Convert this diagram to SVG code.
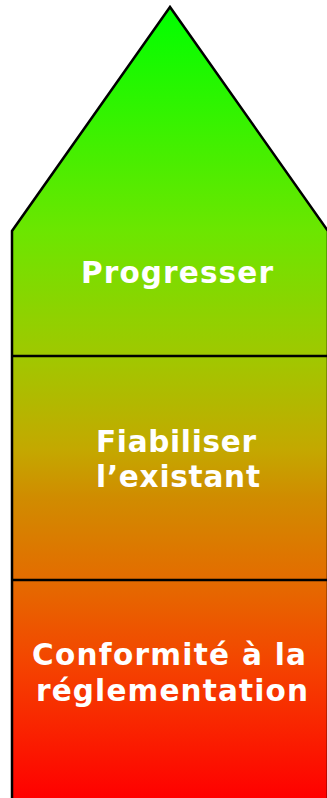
<svg xmlns="http://www.w3.org/2000/svg" width="327" height="798" viewBox="0 0 327 798">
<defs>
<linearGradient id="g" gradientUnits="userSpaceOnUse" x1="0" y1="7" x2="0" y2="798">
<stop offset="0" stop-color="#00ff00"/>
<stop offset="0.284" stop-color="#6ce600"/>
<stop offset="0.441" stop-color="#a0c800"/>
<stop offset="0.56" stop-color="#c4a800"/>
<stop offset="0.62" stop-color="#d08c00"/>
<stop offset="0.724" stop-color="#e46c00"/>
<stop offset="0.83" stop-color="#f44400"/>
<stop offset="1" stop-color="#ff0000"/>
</linearGradient>
<style>
.t{font-family:"DejaVu Sans",Verdana,sans-serif;font-weight:bold;font-size:29.5px;fill:#ffffff}
.l{stroke:#000;stroke-width:2.5;fill:none}
</style>
</defs>
<g id="house">
<path d="M170,7 L12,231 L12,800 L328,800 L328,231 Z" fill="url(#g)" stroke="#000" stroke-width="2.5" stroke-linejoin="miter"/>
</g>
<g id="connectors">
<line class="l" x1="12" y1="356" x2="328" y2="356"/>
<line class="l" x1="12" y1="580" x2="328" y2="580"/>
</g>
<g id="top">
<text class="t" x="81" y="283" textLength="192" lengthAdjust="spacing">Progresser</text>
</g>
<g id="middle">
<text class="t" x="96" y="452" textLength="160" lengthAdjust="spacing">Fiabiliser</text>
<text class="t" x="96" y="487" textLength="164" lengthAdjust="spacing">l’existant</text>
</g>
<g id="bottom">
<text class="t" x="32" y="665" textLength="274" lengthAdjust="spacing">Conformité à la</text>
<text class="t" x="36" y="701" textLength="272" lengthAdjust="spacing">réglementation</text>
</g>
</svg>
